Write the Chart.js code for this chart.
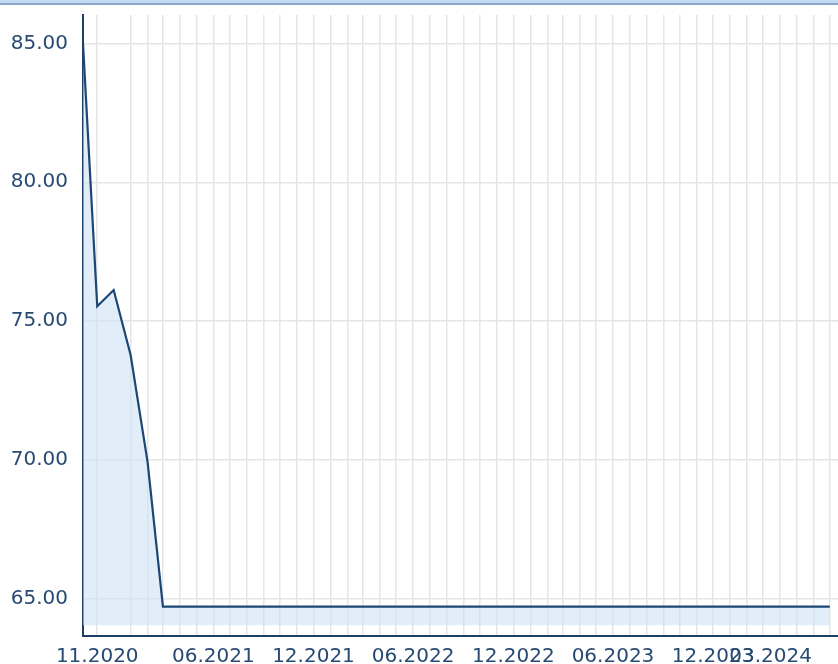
<!DOCTYPE html>
<html>
<head>
<meta charset="utf-8">
<script src="https://cdn.jsdelivr.net/npm/chart.js@4.4.1/dist/chart.umd.min.js"></script>
<style>
    html, body { margin: 0; padding: 0; background: #fff; overflow: hidden; }
    #wrap { position: relative; width: 838px; height: 664px; }
    #topbar { position: absolute; left: 0; top: 0; width: 838px; height: 3px; background: #c4dbf1; border-bottom: 2px solid #8aa7c6; z-index: 2; }
</style>
</head>
<body>
<div id="wrap">
    <div id="topbar"></div>
    <canvas id="chart" width="838" height="664"></canvas>
</div>
<script>
// Pontos da série (datas e valores)
const pointDates = ['2020-10-06', '2020-11-01', '2020-12-01', '2021-01-01', '2021-02-01', '2021-03-01', '2024-07-01'];
const pointValues = [85.00, 75.54, 76.12, 73.78, 69.93, 64.73, 64.73];

// Rótulos do eixo x e as datas onde ficam
const labelDates = ['2020-11-01', '2021-06-01', '2021-12-01', '2022-06-01', '2022-12-01', '2023-06-01', '2023-12-01', '2024-03-15'];
const labelTexts = ['11.2020', '06.2021', '12.2021', '06.2022', '12.2022', '06.2023', '12.2023', '03.2024'];

// Eixo y
const yTicks = [65, 70, 75, 80, 85];
const yMin = 63.67;
const yMax = 86.02;
const fillBase = 64.06;

// Intervalo do eixo x
const xStart = '2020-10-06';
const xEnd = '2024-07-16';

// Converte 'AAAA-MM-DD' em número de dias
function toDay(s) {
    const p = s.split('-').map(Number);
    return Date.UTC(p[0], p[1] - 1, p[2]) / 86400000;
}

// Linhas de grade mensais (início de cada mês)
const gridDays = [];
for (let y = 2020, m = 10; y < 2024 || (y === 2024 && m <= 6); m++) {
    if (m > 11) { m = 0; y++; }
    gridDays.push(Date.UTC(y, m, 1) / 86400000);
}
const labelDays = labelDates.map(toDay);
const allTicks = [...new Set(gridDays.concat(labelDays))].sort((a, b) => a - b);
// linhas que não aparecem na imagem
const hiddenGrid = [toDay('2020-12-01'), toDay('2024-03-15')];

const textColor = '#284a72';
const axisColor = '#1d3f66';
const gridColor = '#e6e6e6';
const font = { family: 'DejaVu Sans', size: 20 };

const ctx = document.getElementById('chart').getContext('2d');
new Chart(ctx, {
    type: 'line',
    data: {
        datasets: [{
            data: pointDates.map((d, i) => ({ x: toDay(d), y: pointValues[i] })),
            borderColor: '#1d4674',
            borderWidth: 2.2,
            backgroundColor: 'rgba(205, 226, 245, 0.6)',
            fill: { value: fillBase },
            pointRadius: 0,
            tension: 0
        }]
    },
    options: {
        responsive: false,
        animation: false,
        devicePixelRatio: 1,
        layout: { padding: { top: 15, right: 0, left: 0, bottom: 0 } },
        plugins: {
            legend: { display: false },
            tooltip: { enabled: false }
        },
        scales: {
            x: {
                type: 'linear',
                min: toDay(xStart),
                max: toDay(xEnd),
                afterBuildTicks: scale => { scale.ticks = allTicks.map(v => ({ value: v })); },
                afterFit: scale => {
                    scale.height = 28;
                    scale.paddingLeft = 0;
                    scale.paddingRight = 0;
                },
                ticks: {
                    autoSkip: false,
                    maxRotation: 0,
                    padding: 9,
                    color: textColor,
                    font: font,
                    callback: value => {
                        const i = labelDays.indexOf(value);
                        return i >= 0 ? labelTexts[i] : '';
                    }
                },
                grid: {
                    drawTicks: false,
                    lineWidth: 1.5,
                    color: c => (c.tick && hiddenGrid.includes(c.tick.value)) ? 'rgba(0,0,0,0)' : gridColor
                },
                border: { color: axisColor, width: 2 }
            },
            y: {
                min: yMin,
                max: yMax,
                afterBuildTicks: scale => { scale.ticks = yTicks.map(v => ({ value: v })); },
                afterFit: scale => {
                    scale.width = 83;
                    scale.paddingTop = 0;
                    scale.paddingBottom = 0;
                },
                ticks: {
                    padding: 15,
                    color: textColor,
                    font: font,
                    callback: value => value.toFixed(2)
                },
                grid: {
                    drawTicks: false,
                    lineWidth: 1.5,
                    color: gridColor
                },
                border: { color: axisColor, width: 2 }
            }
        }
    }
});
</script>
</body>
</html>
